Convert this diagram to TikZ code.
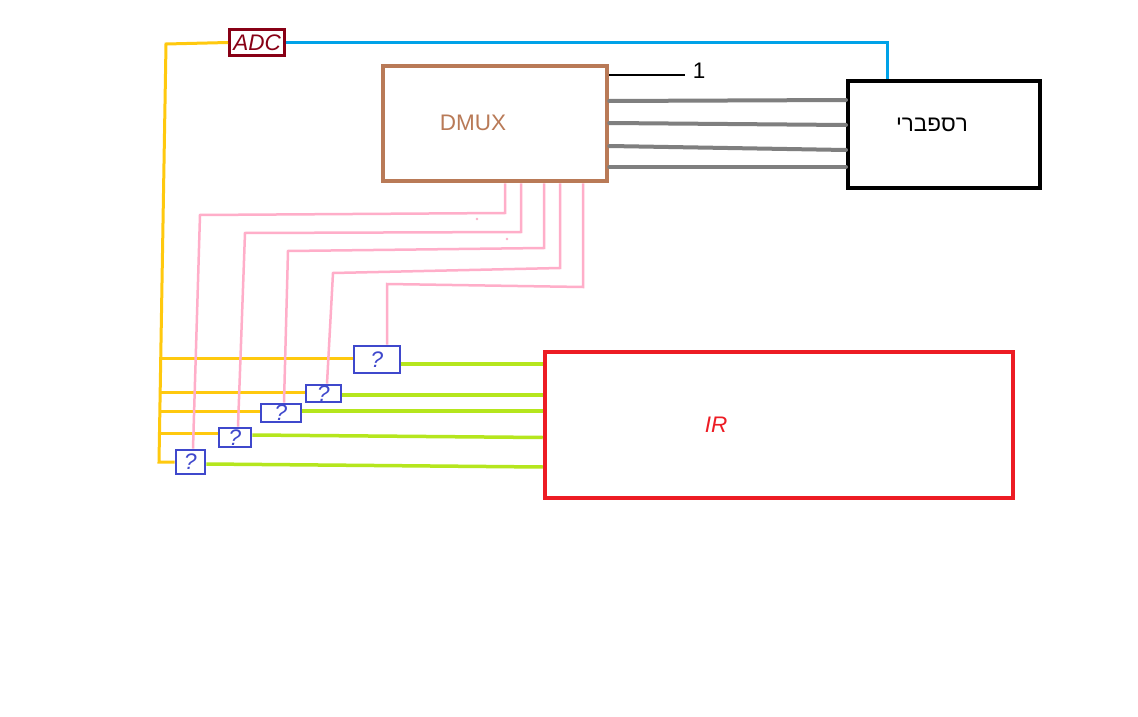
\documentclass[tikz,border=0pt]{standalone}
\usepackage{fontspec}
\setmainfont{Liberation Sans}
\TeXXeTstate=1
\usetikzlibrary{calc}
\definecolor{adcred}{RGB}{136,0,21}
\definecolor{dmuxc}{RGB}{185,122,87}
\definecolor{irred}{RGB}{237,28,36}
\definecolor{qblue}{RGB}{63,72,204}
\definecolor{wireblue}{RGB}{0,162,232}
\definecolor{yel}{RGB}{255,201,14}
\definecolor{grn}{RGB}{181,230,29}
\definecolor{pnk}{RGB}{255,174,201}
\definecolor{gry}{RGB}{127,127,127}
\begin{document}
\begin{tikzpicture}[x=1pt,y=-1pt,
  every node/.style={font=\fontsize{22.5}{27}\selectfont, inner sep=0pt},
  blockbox/.style={draw, rectangle, inner sep=0pt},
  qbox/.style={blockbox, draw=qblue, line width=2.7pt, label={[qlab]center:?}},
  qlab/.style={text=qblue, font=\fontsize{22.5}{27}\selectfont\itshape, inner sep=0pt},
  pinkw/.style={draw=pnk, line width=2.5pt},
  grayw/.style={draw=gry, line width=4pt, line cap=round},
  greenw/.style={draw=grn, line width=3.5pt},
  yelw/.style={draw=yel, line width=3pt},
  bluew/.style={draw=wireblue, line width=3pt}]
\useasboundingbox[fill=white] (0,0) rectangle (1138,717);

% blocks
\node[blockbox, draw=adcred, line width=3pt, minimum width=55pt, minimum height=26pt, text=adcred, font=\fontsize{22.5}{27}\selectfont\itshape] (adc) at (257,42.5) {ADC};
\node[blockbox, draw=dmuxc, line width=4.5pt, minimum width=224pt, minimum height=115pt] (dmux) at (495,123.5) {};
\node[text=dmuxc] (dmuxlab) at (473,123) {DMUX};
\node[blockbox, draw=black, line width=4pt, minimum width=192pt, minimum height=107pt] (rasp) at (944,134.5) {};
\node (rasplab) at (932,125) {\beginR רספברי\endR};
\node[blockbox, draw=irred, line width=4.5pt, minimum width=468pt, minimum height=146pt] (ir) at (779,425) {};
\node[text=irred, font=\fontsize{22.5}{27}\selectfont\itshape] (irlab) at (716,425) {IR};

\node[qbox, minimum width=46pt, minimum height=27pt] (q1) at (377,359.5) {};
\node[qbox, minimum width=35pt, minimum height=17pt] (q2) at (323.5,393.5) {};
\node[qbox, minimum width=40pt, minimum height=18pt] (q3) at (281,413) {};
\node[qbox, minimum width=32pt, minimum height=19pt] (q4) at (235,437.5) {};
\node[qbox, minimum width=29pt, minimum height=24pt] (q5) at (190.5,462) {};

% black line and label 1
\coordinate (onel) at (685,75);
\node (one) at (699,71) {1};
\draw[line width=2.5pt] ([yshift=48.5pt]dmux.east) -- (onel);

% blue wire ADC -> raspberry
\draw[bluew] (adc.east) -| ([xshift=-57pt]rasp.north);

% gray wires DMUX -> raspberry
\draw[grayw] ([yshift=22.5pt]dmux.east) -- ([yshift=34.5pt]rasp.west);
\draw[grayw] ([yshift=0.5pt]dmux.east) -- ([yshift=9.5pt]rasp.west);
\draw[grayw] ([yshift=-22.5pt]dmux.east) -- ([yshift=-15.5pt]rasp.west);
\draw[grayw] ([yshift=-43.5pt]dmux.east) -- ([yshift=-32.5pt]rasp.west);

% yellow wires
\coordinate (ytop) at (166,44);
\coordinate (ybot) at (159,462);
\draw[yelw] (adc.west) -- (ytop) -- (ybot) -- (q5.west);
\draw[yelw] let \p1=(q1.west), \p2=(ybot) in (\x2,\y1+1.5pt) -- (\x1,\y1+1.5pt);
\draw[yelw] let \p1=(q2.west), \p2=(ybot) in (\x2,\y1+1.5pt) -- (\x1,\y1+1.5pt);
\draw[yelw] let \p1=(q3.west), \p2=(ybot) in (\x2,\y1+2pt) -- (\x1,\y1+2pt);
\draw[yelw] let \p1=(q4.west), \p2=(ybot) in (\x2,\y1+4.5pt) -- (\x1,\y1+4.5pt);

% green wires to IR
\draw[greenw] let \p1=(q1.east), \p2=(ir.west) in (\x1,\y1-4.5pt) -- (\x2,\y1-4.5pt);
\draw[greenw] let \p1=(q2.east), \p2=(ir.west) in (\x1,\y1-1.5pt) -- (\x2,\y1-1.5pt);
\draw[greenw] let \p1=(q3.east), \p2=(ir.west) in (\x1,\y1+2pt) -- (\x2,\y1+2pt);
\draw[greenw] let \p1=(q4.east), \p2=(ir.west) in (\x1,\y1+2.5pt) -- (\x2,\y1+0pt);
\draw[greenw] let \p1=(q5.east), \p2=(ir.west) in (\x1,\y1-2pt) -- (\x2,\y1-5pt);

% pink wires DMUX -> boxes
\coordinate (pa1) at (505,213); \coordinate (pa2) at (200,215);
\coordinate (pb1) at (521,232); \coordinate (pb2) at (245,233);
\coordinate (pc1) at (544,248); \coordinate (pc2) at (288,251);
\coordinate (pd1) at (560,268); \coordinate (pd2) at (333,273);
\coordinate (pe1) at (583,287); \coordinate (pe2) at (387,284);
\draw[pinkw] ([xshift=10pt]dmux.south) -- (pa1) -- (pa2) -- ([xshift=2.5pt]q5.north);
\draw[pinkw] ([xshift=26pt]dmux.south) -- (pb1) -- (pb2) -- ([xshift=3pt]q4.north);
\draw[pinkw] ([xshift=49pt]dmux.south) -- (pc1) -- (pc2) -- ([xshift=3pt]q3.north);
\draw[pinkw] ([xshift=65pt]dmux.south) -- (pd1) -- (pd2) -- ([xshift=3.5pt]q2.north);
\draw[pinkw] ([xshift=88pt]dmux.south) -- (pe1) -- (pe2) -- ([xshift=10pt]q1.north);
\fill[pnk] (477,219) circle (1.3pt);
\fill[pnk] (507,239) circle (1.3pt);
\end{tikzpicture}
\end{document}
